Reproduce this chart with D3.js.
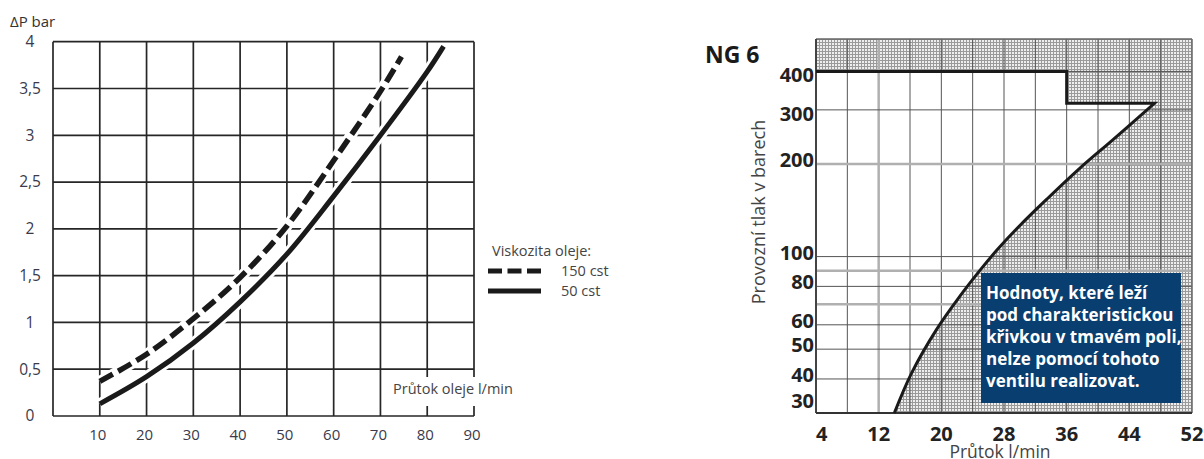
<!DOCTYPE html>
<html>
<head>
<meta charset="utf-8">
<script src="https://cdn.jsdelivr.net/npm/d3@7"></script>
<style>
  body { margin: 0; background: #fff; }
  svg { display: block; font-family: "Open Sans", sans-serif; }
</style>
</head>
<body>
<script>
// left chart: pressure drop vs flow
var flowTicks = [10, 20, 30, 40, 50, 60, 70, 80, 90];
var dpTicks = [0, 0.5, 1, 1.5, 2, 2.5, 3, 3.5, 4];
var dpLabels = ["0", "0,5", "1", "1,5", "2", "2,5", "3", "3,5", "4"];
var flow150 = [10, 20, 30, 40, 50, 60, 70, 74.5];
var dp150 = [0.37, 0.66, 1.04, 1.48, 2.03, 2.73, 3.47, 3.84];
var flow50 = [10, 20, 30, 40, 50, 60, 70, 80, 83.5];
var dp50 = [0.13, 0.42, 0.78, 1.22, 1.73, 2.35, 3.0, 3.68, 3.95];

// right chart: NG 6 working range
var ngQTicks = [4, 12, 20, 28, 36, 44, 52];
var ngPTicks = [30, 40, 50, 60, 80, 100, 200, 300, 400];
var ngGridQ = [8, 12, 16, 20, 24, 28, 32, 36, 40, 44, 48];
var ngGridP = [40, 50, 60, 70, 80, 90, 100, 200, 300, 400];
var ngLightQ = [12];
var ngLightP = [70, 90, 200];
var stepQ = [4, 36, 36, 47.2];
var stepP = [400, 400, 315, 315];
var limitQ = [47.2, 42.0, 37.7, 33.5, 30.0, 27.1, 24.9, 22.4, 19.4, 16.2, 14.0];
var limitP = [315, 241, 194, 154, 126, 105, 90, 74.5, 58, 41.8, 31];
var noteLines = ["Hodnoty, které leží", "pod charakteristickou", "křivkou v tmavém poli,", "nelze pomocí tohoto", "ventilu realizovat."];

var svg = d3.select("body").append("svg").attr("width", 1204).attr("height", 459);

// ---------- left chart ----------
var x = d3.scaleLinear().domain([0, 90]).range([53, 474]);
var y = d3.scaleLinear().domain([0, 4]).range([416, 41.7]);
var left = svg.append("g");

left.selectAll(".vgrid").data([0].concat(flowTicks)).enter().append("line")
  .attr("x1", function(d){ return x(d); }).attr("x2", function(d){ return x(d); })
  .attr("y1", y(0)).attr("y2", y(4))
  .style("stroke", "#262626").style("stroke-width", "1.7px");
left.selectAll(".hgrid").data(dpTicks).enter().append("line")
  .attr("x1", x(0)).attr("x2", x(90))
  .attr("y1", function(d){ return y(d); }).attr("y2", function(d){ return y(d); })
  .style("stroke", "#262626").style("stroke-width", "1.7px");

left.selectAll(".ylab").data(dpTicks).enter().append("text")
  .attr("x", 30).attr("y", function(d){ return y(d); }).attr("dy", "0.35em")
  .attr("text-anchor", "middle").style("font-size", "15.5px").style("fill", "#3a3a4a")
  .text(function(d, i){ return dpLabels[i]; });
left.selectAll(".xlab").data(flowTicks).enter().append("text")
  .attr("x", function(d){ return x(d) - 2; }).attr("y", 435).attr("dy", "0.35em")
  .attr("text-anchor", "middle").style("font-size", "15px").style("fill", "#3a3a4a")
  .text(function(d){ return d; });
left.append("text").attr("x", 10).attr("y", 27).style("font-size", "15px").style("fill", "#333").text("ΔP bar");

// flow label with white background over the grid
var flowLab = left.append("text").attr("x", 393).attr("y", 394).style("font-size", "14.5px").style("fill", "#444").text("Průtok oleje l/min");
var bb = flowLab.node().getBBox();
left.insert("rect", "text").attr("x", bb.x - 4).attr("y", 377).attr("width", bb.width + 8).attr("height", 29).style("fill", "#fff");

var line = d3.line().x(function(d){ return x(d[0]); }).y(function(d){ return y(d[1]); }).curve(d3.curveCatmullRom);
var pts150 = flow150.map(function(d, i){ return [d, dp150[i]]; });
var pts50 = flow50.map(function(d, i){ return [d, dp50[i]]; });
[pts150, pts50].forEach(function(p){
  left.append("path").attr("d", line(p)).style("fill", "none").style("stroke", "#fff").style("stroke-width", "11px");
});
left.append("path").attr("d", line(pts150)).style("fill", "none").style("stroke", "#1a1a1a")
  .style("stroke-width", "5.5px").style("stroke-dasharray", "15,6");
left.append("path").attr("d", line(pts50)).style("fill", "none").style("stroke", "#1a1a1a").style("stroke-width", "5px");

// legend
left.append("text").attr("x", 492).attr("y", 256).style("font-size", "14.5px").style("fill", "#444").text("Viskozita oleje:");
left.append("line").attr("x1", 488).attr("x2", 541).attr("y1", 271).attr("y2", 271)
  .style("stroke", "#1a1a1a").style("stroke-width", "5px").style("stroke-dasharray", "14,5.5");
left.append("line").attr("x1", 488).attr("x2", 541).attr("y1", 291).attr("y2", 291)
  .style("stroke", "#1a1a1a").style("stroke-width", "5px");
left.append("text").attr("x", 561).attr("y", 276).style("font-size", "14.5px").style("fill", "#444").text("150 cst");
left.append("text").attr("x", 561).attr("y", 296).style("font-size", "14.5px").style("fill", "#444").text("50 cst");

// ---------- right chart ----------
var qx = d3.scaleLinear().domain([4, 52]).range([816, 1192]);
var py = d3.scaleLog().domain([31, 510]).range([413, 39]);
var right = svg.append("g");

var defs = svg.append("defs");
var pat = defs.append("pattern").attr("id", "mesh").attr("width", 3).attr("height", 3).attr("patternUnits", "userSpaceOnUse");
pat.append("rect").attr("width", 3).attr("height", 3).style("fill", "#eeeeee");
pat.append("path").attr("d", "M0,0.5H3M0.5,0V3").style("stroke", "#9a9a9a").style("stroke-width", "1px");

right.append("rect").attr("x", qx(4)).attr("y", py(510)).attr("width", qx(52) - qx(4)).attr("height", py(31) - py(510))
  .style("fill", "url(#mesh)");

var stepPts = stepQ.map(function(d, i){ return [qx(d), py(stepP[i])]; });
var limitPts = limitQ.map(function(d, i){ return [qx(d), py(limitP[i])]; });
var curvePath = d3.line().curve(d3.curveCatmullRom)(limitPts);
var boundary = d3.line()(stepPts) + "L" + curvePath.slice(1);
right.append("path").attr("d", boundary + "L" + qx(4) + "," + py(31) + "Z").style("fill", "#fff");

right.selectAll(".qgrid").data(ngGridQ).enter().append("line")
  .attr("x1", function(d){ return qx(d); }).attr("x2", function(d){ return qx(d); })
  .attr("y1", py(31)).attr("y2", py(510))
  .style("stroke", function(d){ return ngLightQ.indexOf(d) >= 0 ? "#b0b0b0" : "#555"; })
  .style("stroke-width", function(d){ return ngLightQ.indexOf(d) >= 0 ? "2.5px" : "1px"; });
right.selectAll(".pgrid").data(ngGridP).enter().append("line")
  .attr("x1", qx(4)).attr("x2", qx(52))
  .attr("y1", function(d){ return py(d); }).attr("y2", function(d){ return py(d); })
  .style("stroke", function(d){ return ngLightP.indexOf(d) >= 0 ? "#b0b0b0" : "#555"; })
  .style("stroke-width", function(d){ return ngLightP.indexOf(d) >= 0 ? "2.5px" : "1px"; });

// frame
right.append("line").attr("x1", qx(4)).attr("x2", qx(52)).attr("y1", py(510)).attr("y2", py(510)).style("stroke", "#666").style("stroke-width", "1.5px");
right.append("line").attr("x1", qx(52)).attr("x2", qx(52)).attr("y1", py(510)).attr("y2", py(31)).style("stroke", "#666").style("stroke-width", "1.5px");
right.append("line").attr("x1", qx(4)).attr("x2", qx(4)).attr("y1", py(510)).attr("y2", py(31)).style("stroke", "#444").style("stroke-width", "2px");
right.append("line").attr("x1", qx(4)).attr("x2", qx(52)).attr("y1", py(31)).attr("y2", py(31)).style("stroke", "#333").style("stroke-width", "2px");

right.append("path").attr("d", boundary).style("fill", "none").style("stroke", "#1a1a1a").style("stroke-width", "3px").style("stroke-linejoin", "miter");

right.selectAll(".plab").data(ngPTicks).enter().append("text")
  .attr("x", 814).attr("y", function(d){ return d === 30 ? 401 : py(d) + (d >= 300 ? 4 : -4); }).attr("dy", "0.35em")
  .attr("text-anchor", "end").style("font-size", "20px").style("font-weight", 700).style("fill", "#222")
  .text(function(d){ return d; });
right.selectAll(".qlab").data(ngQTicks).enter().append("text")
  .attr("x", function(d){ return qx(d); }).attr("y", 434).attr("dy", "0.35em")
  .attr("text-anchor", function(d, i){ return i === 0 ? "start" : "middle"; })
  .style("font-size", "20px").style("font-weight", 700).style("fill", "#222")
  .text(function(d){ return d; });

right.append("text").attr("x", 705).attr("y", 63).style("font-size", "23px").style("font-weight", 700).style("fill", "#1a1a1a").text("NG 6");
right.append("text").attr("transform", "translate(765,212) rotate(-90)").attr("text-anchor", "middle")
  .style("font-size", "18px").style("fill", "#444").text("Provozní tlak v barech");
right.append("text").attr("x", 1000).attr("y", 458).attr("text-anchor", "middle")
  .style("font-size", "17.5px").style("fill", "#444").text("Průtok l/min");

// note box
right.append("rect").attr("x", 981).attr("y", 273).attr("width", 200).attr("height", 130).style("fill", "#083e70");
right.selectAll(".note").data(noteLines).enter().append("text")
  .attr("x", 986).attr("y", function(d, i){ return 299 + i * 22; })
  .style("font-size", "17px").style("font-weight", 700).style("fill", "#fff")
  .text(function(d){ return d; });
</script>
</body>
</html>
